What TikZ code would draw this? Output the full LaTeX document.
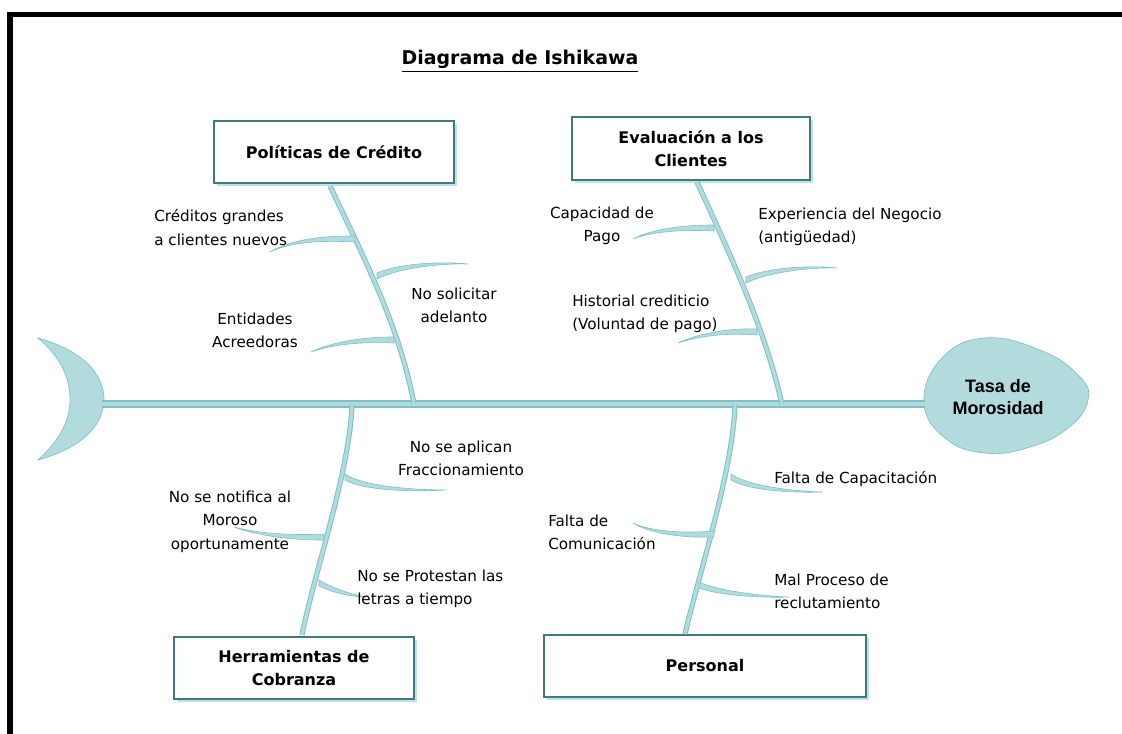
\documentclass[tikz,border=0pt]{standalone}
\usepackage{fontspec}
\setmainfont{DejaVu Sans}
\newfontfamily\arialfont{Liberation Sans}
\usetikzlibrary{calc,shadows}
\definecolor{tealfill}{HTML}{B2DBDE}
\definecolor{tealedge}{HTML}{7FC0C5}
\definecolor{boxedge}{HTML}{3F7A7E}
\definecolor{boxshadow}{HTML}{BFE2E4}
\tikzset{
  bonestyle/.style={draw=tealedge, double=tealfill, double distance=2.4pt, line width=0.75pt},
  spinestyle/.style={draw=tealedge, double=tealfill, double distance=3.6pt, line width=0.85pt},
  subbonestyle/.style={fill=tealfill, draw=tealedge, line width=0.45pt},
  catbox/.style={draw=boxedge, line width=1.3pt, fill=white, align=center,
     font=\fontsize{12}{17.5}\selectfont\bfseries,
     drop shadow={fill=boxshadow, opacity=1, shadow xshift=2.2pt, shadow yshift=-2.2pt}},
  lbl/.style={font=\fontsize{11.4}{17.5}\selectfont, inner sep=0pt},
}
\newcommand\subbone[4]{%
  \path[subbonestyle] ($(#1)+(0,-3)$) .. controls ($(#2)+(0,-2.2)$) and ($(#3)+(0,-1.1)$) .. (#4)
     .. controls ($(#3)+(0,1.1)$) and ($(#2)+(0,2.2)$) .. ($(#1)+(0,3)$) -- cycle;}
\begin{document}
\begin{tikzpicture}[x=0.75pt,y=-0.75pt]
\useasboundingbox (0,0) rectangle (1122,733);
% frame
\draw[line width=3.8pt, black] (10,740) -- (10,14.5) -- (1130,14.5);
% title
\node[font=\fontsize{14.2}{17}\selectfont\bfseries] (title) at (520,61) {\underline{Diagrama de Ishikawa}};
% head crescent
\path[fill=tealfill, draw=tealedge, line width=0.5pt] (38,338) .. controls (88,352) and (104,378) .. (104,399)
   .. controls (104,421) and (88,446) .. (38,460)
   .. controls (60,440) and (70,421) .. (70,399)
   .. controls (70,378) and (60,356) .. (38,338) -- cycle;
\coordinate (head) at (102,404);
% effect blob
\path[fill=tealfill, draw=tealedge, line width=0.5pt] plot[smooth cycle, tension=0.75] coordinates
  {(924,402) (942,358) (985,338) (1040,350) (1078,375) (1088,400) (1068,428) (1030,447) (985,453) (945,438)};
\node[font=\arialfont\fontsize{13.5}{16.5}\selectfont\bfseries, align=center] (effect) at (998,397) {Tasa de\\Morosidad};
\coordinate (tail) at (925,404);
% spine
\draw[spinestyle] (head) -- (tail);
% category boxes
\node[catbox, minimum width=180pt, minimum height=46pt] (pol) at (334,152) {Políticas de Crédito};
\node[catbox, minimum width=178pt, minimum height=47pt] (eva) at (691,148.5) {Evaluación a los\\Clientes};
\node[catbox, minimum width=180pt, minimum height=46pt] (her) at (294,668) {Herramientas de\\Cobranza};
\node[catbox, minimum width=242pt, minimum height=46pt] (per) at (705,666) {Personal};
% bone joints on spine
\coordinate (j1) at (414,404);
\coordinate (j2) at (782,404);
\coordinate (j3) at (352,404);
\coordinate (j4) at (735,404);
% main bones
\draw[bonestyle] (330,186) .. controls (370,270) and (400,330) .. (j1);
\draw[bonestyle] (697,182) .. controls (735,265) and (765,330) .. (j2);
\draw[bonestyle] (j3) .. controls (350,470) and (315,570) .. (302,635);
\draw[bonestyle] (j4) .. controls (733,470) and (700,570) .. (685,634);
% sub-bone roots
\coordinate (a1) at (355,239);
\coordinate (a2) at (377,276);
\coordinate (a3) at (394,340);
\coordinate (a4) at (714,228);
\coordinate (a5) at (746,280);
\coordinate (a6) at (757,332);
\coordinate (a7) at (345,477);
\coordinate (a8) at (324,537);
\coordinate (a9) at (319,583);
\coordinate (a10) at (731,477);
\coordinate (a11) at (714,534);
\coordinate (a12) at (699,585);
% sub-bone ends
\coordinate (e1) at (270,252);
\coordinate (e2) at (468,264);
\coordinate (e3) at (311,352);
\coordinate (e4) at (633,239);
\coordinate (e5) at (837,268);
\coordinate (e6) at (678,343);
\coordinate (e7) at (446,490);
\coordinate (e8) at (234,527);
\coordinate (e9) at (368,597);
\coordinate (e10) at (822,492);
\coordinate (e11) at (633,523);
\coordinate (e12) at (789,597);
\subbone{a1}{320,238}{290,241}{e1}
\subbone{a2}{398,266}{440,262}{e2}
\subbone{a3}{360,339}{330,344}{e3}
\subbone{a4}{680,227}{650,231}{e4}
\subbone{a5}{768,270}{810,266}{e5}
\subbone{a6}{725,330}{695,336}{e6}
\subbone{a7}{362,488}{410,491}{e7}
\subbone{a8}{290,538}{255,534}{e8}
\subbone{a9}{334,591}{352,596}{e9}
\subbone{a10}{748,488}{790,492}{e10}
\subbone{a11}{680,536}{650,532}{e11}
\subbone{a12}{718,593}{760,597}{e12}
% labels
\node[lbl, anchor=west, align=left] (l1) at (154,227.5) {Créditos grandes\\a clientes nuevos};
\node[lbl, align=center] (l2) at (454,305) {No solicitar\\adelanto};
\node[lbl, align=center] (l3) at (255,330) {Entidades\\Acreedoras};
\node[lbl, align=center] (l4) at (602,226) {Capacidad de\\Pago};
\node[lbl, anchor=west, align=left] (l5) at (758,227) {Experiencia del Negocio\\(antigüedad)};
\node[lbl, anchor=west, align=left] (l6) at (572,313.5) {Historial crediticio\\(Voluntad de pago)};
\node[lbl, align=center] (l7) at (461,458.5) {No se aplican\\Fraccionamiento};
\node[lbl, align=center] (l8) at (230,521.5) {No se notifica al\\Moroso\\oportunamente};
\node[lbl, anchor=west, align=left] (l9) at (357,589) {No se Protestan las\\letras a tiempo};
\node[lbl, anchor=west, align=left] (l10) at (774,479) {Falta de Capacitación};
\node[lbl, anchor=west, align=left] (l11) at (548,532) {Falta de\\Comunicación};
\node[lbl, anchor=west, align=left] (l12) at (774,591) {Mal Proceso de\\reclutamiento};
\end{tikzpicture}
\end{document}
